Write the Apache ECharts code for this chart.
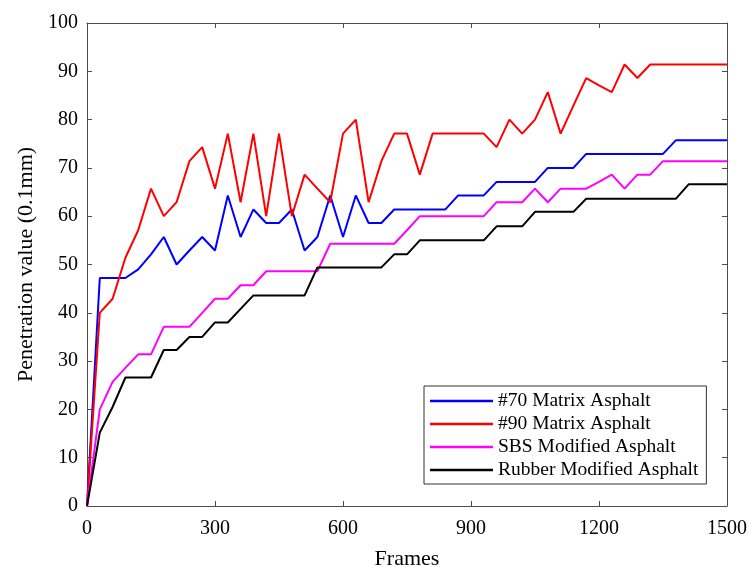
<!DOCTYPE html>
<html>
<head>
<meta charset="utf-8">
<script src="https://cdn.jsdelivr.net/npm/echarts@6/dist/echarts.min.js"></script>
<style>
    html, body { margin: 0; padding: 0; background: #fff; }
    #main { width: 751px; height: 567px; }
</style>
</head>
<body>
<div id="main"></div>
<script>
// 横轴帧数
var frames = [0, 30, 60, 90, 120, 150, 180, 210, 240, 270, 300, 330, 360, 390, 420, 450, 480, 510, 540, 570,
    600, 630, 660, 690, 720, 750, 780, 810, 840, 870, 900, 930, 960, 990, 1020, 1050, 1080, 1110, 1140, 1170,
    1200, 1230, 1260, 1290, 1320, 1350, 1380, 1410, 1440, 1470, 1500];
// 各沥青针入度
var matrix70 = [0, 47.2, 47.2, 47.2, 49.0, 52.1, 55.7, 50.0, 52.9, 55.7, 52.9, 64.3, 55.7, 61.4, 58.6, 58.6, 61.4, 52.9, 55.7, 64.3,
    55.7, 64.3, 58.6, 58.6, 61.4, 61.4, 61.4, 61.4, 61.4, 64.3, 64.3, 64.3, 67.1, 67.1, 67.1, 67.1, 70.0, 70.0, 70.0, 72.9,
    72.9, 72.9, 72.9, 72.9, 72.9, 72.9, 75.7, 75.7, 75.7, 75.7, 75.7];
var matrix90 = [0, 40.0, 42.9, 51.4, 57.1, 65.7, 60.0, 62.9, 71.4, 74.3, 65.7, 77.1, 62.9, 77.1, 60.0, 77.1, 60.0, 68.6, 65.7, 62.9,
    77.1, 80.0, 62.9, 71.4, 77.1, 77.1, 68.6, 77.1, 77.1, 77.1, 77.1, 77.1, 74.3, 80.0, 77.1, 80.0, 85.7, 77.1, 82.9, 88.6,
    87.1, 85.7, 91.4, 88.6, 91.4, 91.4, 91.4, 91.4, 91.4, 91.4, 91.4];
var sbs = [0, 20.0, 25.7, 28.6, 31.4, 31.4, 37.1, 37.1, 37.1, 40.0, 42.9, 42.9, 45.7, 45.7, 48.6, 48.6, 48.6, 48.6, 48.6, 54.3,
    54.3, 54.3, 54.3, 54.3, 54.3, 57.1, 60.0, 60.0, 60.0, 60.0, 60.0, 60.0, 62.9, 62.9, 62.9, 65.7, 62.9, 65.7, 65.7, 65.7,
    67.1, 68.6, 65.7, 68.6, 68.6, 71.4, 71.4, 71.4, 71.4, 71.4, 71.4];
var rubber = [0, 15.2, 20.5, 26.6, 26.6, 26.6, 32.3, 32.3, 35.0, 35.0, 38.0, 38.0, 40.8, 43.6, 43.6, 43.6, 43.6, 43.6, 49.4, 49.4,
    49.4, 49.4, 49.4, 49.4, 52.1, 52.1, 55.0, 55.0, 55.0, 55.0, 55.0, 55.0, 57.9, 57.9, 57.9, 60.9, 60.9, 60.9, 60.9, 63.6,
    63.6, 63.6, 63.6, 63.6, 63.6, 63.6, 63.6, 66.6, 66.6, 66.6, 66.6];
var seriesNames = ['#70 Matrix Asphalt', '#90 Matrix Asphalt', 'SBS Modified Asphalt', 'Rubber Modified Asphalt'];
var seriesColors = ['#0000ff', '#ff0000', '#ff00ff', '#000000'];

var FONT = 'Liberation Serif';
var AXIS_COLOR = '#4d4d4d';

function pairs(values) {
    return frames.map(function (f, i) { return [f, values[i]]; });
}

var myChart = echarts.init(document.getElementById('main'));

var lines = [matrix70, matrix90, sbs, rubber].map(function (vals, i) {
    return {
        name: seriesNames[i],
        type: 'line',
        symbol: 'none',
        color: seriesColors[i],
        lineStyle: { width: 2, color: seriesColors[i] },
        emphasis: { disabled: true },
        data: pairs(vals)
    };
});

myChart.setOption({
    animation: false,
    backgroundColor: '#fff',
    grid: { left: 87, top: 23, width: 640, height: 483, containLabel: false, outerBoundsMode: 'none' },
    legend: {
        orient: 'vertical',
        left: 424,
        top: 386,
        backgroundColor: '#fff',
        borderColor: '#333',
        borderWidth: 1,
        padding: [5, 8, 4, 6],
        icon: 'rect',
        itemWidth: 63,
        itemHeight: 2.5,
        itemGap: 3,
        textStyle: { fontFamily: FONT, fontSize: 19.5, lineHeight: 19, color: '#000' },
        data: seriesNames
    },
    xAxis: [{
        type: 'value',
        position: 'bottom',
        min: 0, max: 1500, interval: 300,
        name: 'Frames',
        nameLocation: 'middle',
        nameGap: 42,
        nameTextStyle: { fontFamily: FONT, fontSize: 22, color: '#000' },
        axisLine: { onZero: false, lineStyle: { color: AXIS_COLOR, width: 1 } },
        axisTick: { inside: true, length: 5, lineStyle: { color: AXIS_COLOR } },
        axisLabel: {
            fontFamily: FONT, fontSize: 20, color: '#000', margin: 13,
            formatter: function (v) { return String(v); }
        },
        splitLine: { show: false }
    }, {
        type: 'value',
        position: 'top',
        min: 0, max: 1500, interval: 300,
        axisLine: { onZero: false, lineStyle: { color: AXIS_COLOR, width: 1 } },
        axisTick: { inside: true, length: 5, lineStyle: { color: AXIS_COLOR } },
        axisLabel: { show: false },
        splitLine: { show: false }
    }],
    yAxis: [{
        type: 'value',
        position: 'left',
        min: 0, max: 100, interval: 10,
        name: 'Penetration value (0.1mm)',
        nameLocation: 'middle',
        nameGap: 50,
        nameTextStyle: { fontFamily: FONT, fontSize: 22, color: '#000' },
        axisLine: { show: true, onZero: false, lineStyle: { color: AXIS_COLOR, width: 1 } },
        axisTick: { show: true, inside: true, length: 5, lineStyle: { color: AXIS_COLOR } },
        axisLabel: { fontFamily: FONT, fontSize: 20, color: '#000', margin: 9 },
        splitLine: { show: false }
    }, {
        type: 'value',
        position: 'right',
        min: 0, max: 100, interval: 10,
        axisLine: { show: true, onZero: false, lineStyle: { color: AXIS_COLOR, width: 1 } },
        axisTick: { show: true, inside: true, length: 5, lineStyle: { color: AXIS_COLOR } },
        axisLabel: { show: false },
        splitLine: { show: false }
    }],
    series: lines
});
</script>
</body>
</html>
